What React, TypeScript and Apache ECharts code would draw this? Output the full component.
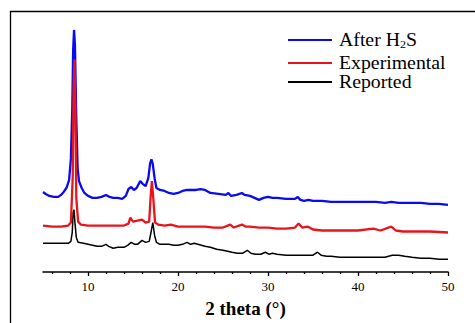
import React, { useEffect, useRef } from "react";
import * as echarts from "echarts";

// XRD patterns: [2θ (°), intensity (a.u., stacked offsets included)]
const afterH2S: [number, number][] = [
  [5.0, 81], [5.3, 79], [5.7, 77], [6.2, 76], [6.7, 76], [7.0, 78], [7.3, 81], [7.6, 85],
  [7.9, 93], [8.1, 115], [8.25, 165], [8.35, 225], [8.45, 245], [8.55, 230], [8.7, 155],
  [8.85, 105], [9.0, 92], [9.3, 85], [9.6, 80], [10.0, 77], [10.5, 75], [11.0, 75], [11.5, 76],
  [12.0, 78], [12.4, 76], [12.8, 75], [13.3, 75], [13.8, 74], [14.2, 77], [14.5, 84], [14.8, 86],
  [15.1, 83], [15.4, 85], [15.8, 92], [16.1, 89], [16.4, 87], [16.7, 95], [16.9, 110],
  [17.05, 114], [17.2, 109], [17.4, 95], [17.6, 85], [18.0, 83], [18.5, 82], [19.0, 80],
  [19.5, 79], [20.0, 80], [20.5, 82], [21.0, 83], [22.0, 83], [22.5, 84], [23.0, 83],
  [23.6, 80], [24.5, 79], [25.3, 78], [25.6, 80], [25.9, 77], [26.5, 78], [27.1, 80],
  [27.4, 78], [28.0, 77], [28.5, 75], [29.0, 73], [29.5, 75], [30.0, 76], [30.5, 75],
  [31.0, 75], [32.0, 74], [33.0, 74], [33.3, 76], [33.6, 73], [34.0, 72], [34.5, 73],
  [35.0, 72], [36.0, 72], [37.0, 71], [38.0, 71], [39.0, 71], [40.0, 71], [41.0, 71],
  [42.0, 71], [43.0, 70], [43.7, 71], [44.5, 70], [45.0, 70], [46.0, 70], [47.0, 70],
  [48.0, 69], [49.0, 69], [50.0, 68],
];

const experimental: [number, number][] = [
  [5.0, 47], [6.0, 46], [7.0, 46], [7.8, 47], [8.1, 50], [8.3, 95], [8.4, 185], [8.5, 215],
  [8.6, 165], [8.7, 75], [8.9, 51], [9.2, 48], [10, 47], [11, 47], [12, 47], [13, 47], [14, 47],
  [14.5, 49], [14.7, 55], [15.0, 51], [15.5, 52], [16.0, 53], [16.4, 50], [16.8, 51],
  [16.95, 75], [17.1, 92], [17.25, 75], [17.45, 50], [17.8, 48], [18.5, 47], [19.2, 48],
  [20, 46], [21, 46], [22, 46], [23, 46], [24, 45], [25, 45], [25.8, 48], [26.2, 45],
  [27.1, 48], [27.5, 46], [28, 46], [29, 45], [30, 45], [31, 44], [32, 44], [33, 45],
  [33.4, 49], [33.8, 45], [34.4, 46], [35, 43], [36, 42], [38, 42], [40, 42], [41.7, 44],
  [42.5, 42], [43.7, 46], [44.2, 42], [45, 41], [47, 41], [48, 41], [50, 40],
];

const reported: [number, number][] = [
  [5.0, 29], [6.0, 29], [7.0, 29], [7.8, 29], [8.1, 31], [8.25, 40], [8.35, 60], [8.45, 63],
  [8.55, 50], [8.7, 35], [8.9, 30], [9.5, 29], [10.0, 28], [10.5, 27], [11.0, 26], [11.5, 26],
  [12.0, 28], [12.3, 26], [12.8, 24], [13.3, 25], [14.0, 25], [14.4, 27], [14.8, 30],
  [15.2, 28], [15.5, 28], [16.0, 32], [16.4, 30], [16.8, 31], [17.0, 40], [17.2, 50],
  [17.4, 37], [17.6, 30], [18.0, 28], [18.5, 28], [19.0, 28], [19.5, 27], [20.0, 27],
  [20.5, 28], [21.0, 30], [21.4, 28], [21.8, 29], [22.2, 28], [23.0, 26], [23.6, 25],
  [24.3, 23], [25.0, 22], [25.5, 21], [26.0, 20], [26.6, 19], [27.2, 19], [27.7, 22],
  [28.1, 19], [28.6, 18], [29.2, 18], [29.7, 20], [30.1, 18], [30.5, 19], [31.0, 18],
  [32.0, 17], [33.0, 17], [34.0, 17], [35.0, 17], [35.5, 20], [35.9, 17], [36.5, 16],
  [37.0, 16], [38.0, 15], [39.0, 15], [40.0, 15], [41.0, 15], [42.0, 15], [43.0, 15],
  [43.8, 17], [44.5, 17], [45.2, 16], [46.0, 15], [47.0, 14], [48.0, 14], [49.0, 13],
  [50.0, 13],
];

const majorTicks = [10, 20, 30, 40, 50];
const minorTicks = [6, 8, 12, 14, 16, 18, 22, 24, 26, 28, 32, 34, 36, 38, 42, 44, 46, 48];

const BLUE = "#0a0af0";
const RED = "#e8141a";
const BLACK = "#000000";
const SERIF = "'Liberation Serif', 'Times New Roman', serif";

export default function App() {
  const ref = useRef<HTMLDivElement>(null);

  useEffect(() => {
    if (!ref.current) return;
    const chart = echarts.init(ref.current, null, { renderer: "svg" });

    const legendRows = [
      { y: 40, color: BLUE, text: "{n|After H}{s|2}{n|S}" },
      { y: 63, color: RED, text: "{n|Experimental}" },
      { y: 82, color: BLACK, text: "{n|Reported}" },
    ];

    const graphic: any[] = [
      {
        type: "rect",
        shape: { x: 10.5, y: 11.5, width: 520, height: 400 },
        style: { fill: "none", stroke: "#000", lineWidth: 1.3 },
        silent: true,
      },
    ];
    legendRows.forEach((r) => {
      graphic.push({
        type: "line",
        shape: { x1: 288, y1: r.y, x2: 332, y2: r.y },
        style: { stroke: r.color, lineWidth: 2 },
      });
      graphic.push({
        type: "text",
        x: 339,
        y: r.y,
        scaleX: 1.1,
        style: {
          text: r.text,
          verticalAlign: "middle",
          fill: "#000",
          rich: {
            n: { fontFamily: SERIF, fontSize: 18, fill: "#000" },
            s: { fontFamily: SERIF, fontSize: 11, fill: "#000", padding: [10, 0, 0, 0] },
          },
        },
      });
    });

    const lineSeries = (name: string, data: [number, number][], color: string, width: number) => ({
      name,
      type: "line",
      data,
      showSymbol: false,
      symbol: "none",
      lineStyle: { color, width },
      itemStyle: { color },
      xAxisIndex: 0,
    });

    chart.setOption({
      animation: false,
      backgroundColor: "#ffffff",
      grid: { left: 43, right: 27, top: 25, bottom: 48 },
      xAxis: [
        {
          type: "value",
          min: 5,
          max: 50,
          position: "bottom",
          name: "2 theta (°)",
          nameLocation: "middle",
          nameGap: 27,
          nameTextStyle: { fontFamily: SERIF, fontSize: 19, fontWeight: "bold", color: "#000" },
          axisLine: { show: true, lineStyle: { color: "#000", width: 1.5 } },
          axisTick: { show: true, length: 4, customValues: majorTicks, lineStyle: { color: "#000", width: 1.3 } },
          axisLabel: {
            customValues: majorTicks,
            margin: 8,
            fontFamily: SERIF,
            fontSize: 13,
            color: "#000",
          },
          splitLine: { show: false },
        },
        {
          type: "value",
          min: 5,
          max: 50,
          position: "bottom",
          axisLine: { show: false },
          axisTick: { show: true, length: 2, customValues: minorTicks, lineStyle: { color: "#000", width: 1.3 } },
          axisLabel: { show: false },
          splitLine: { show: false },
        },
      ],
      yAxis: { type: "value", min: 0, max: 250, show: false },
      series: [
        lineSeries("After H2S", afterH2S, BLUE, 2.3),
        lineSeries("Reported", reported, BLACK, 1.5),
        lineSeries("Experimental", experimental, RED, 2.3),
      ],
      graphic,
    });

    return () => chart.dispose();
  }, []);

  return (
    <div
      ref={ref}
      style={{ position: "absolute", left: 0, top: 0, width: 475, height: 323, background: "#fff" }}
    />
  );
}
